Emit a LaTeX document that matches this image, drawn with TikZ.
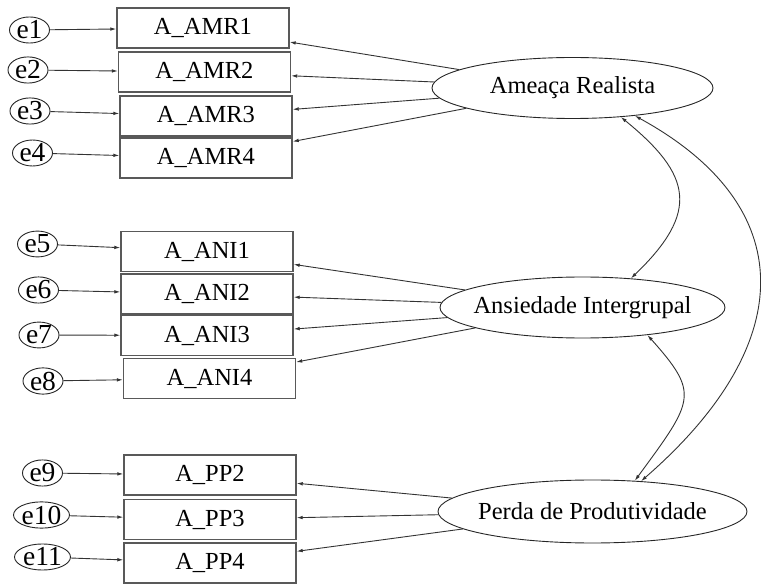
\documentclass[tikz,border=0pt]{standalone}
\usepackage{fontspec}
\setmainfont{Liberation Serif}
\usetikzlibrary{shapes.geometric,arrows.meta}
\newcommand\fixedlabel[1]{\makebox[0pt]{#1}}
\tikzset{
  item/.style={draw=black!65, line width=1.4pt, fill=white, minimum width=172pt,
               minimum height=40pt, inner sep=0pt},
  err/.style={draw=black!85, line width=0.9pt, ellipse, minimum width=40pt,
              minimum height=24pt, inner sep=0pt, font=\fontsize{27.5}{30}\selectfont},
  lat/.style={draw=black!85, line width=0.9pt, ellipse, inner sep=0pt},
  tip/.tip={Latex[length=6pt,width=3.6pt]},
  load/.style={draw=black!80, line width=0.9pt, -tip},
  cov/.style={draw=black!80, line width=0.9pt, tip-tip},
}
\begin{document}
\begin{tikzpicture}[x=1pt,y=-1pt,font=\fontsize{24.5}{28}\selectfont]
\useasboundingbox (0,0) rectangle (761,585);

% latent factors
\node[lat, minimum width=281pt, minimum height=61pt] (AR) at (572.5,88) {\fixedlabel{Ameaça Realista}};
\node[lat, minimum width=285pt, minimum height=61pt] (AI) at (582.5,307.5) {\fixedlabel{Ansiedade Intergrupal}};
\node[lat, minimum width=309pt, minimum height=63pt] (PP) at (592.5,511.5) {\fixedlabel{Perda de Produtividade}};

% observed items
\node[item] (AMR1) at (203,28) {A\_AMR1};
\node[item] (AMR2) at (204.5,72) {A\_AMR2};
\node[item] (AMR3) at (206,116) {A\_AMR3};
\node[item] (AMR4) at (206,158) {A\_AMR4};
\node[item] (ANI1) at (207,251.5) {A\_ANI1};
\node[item] (ANI2) at (207,294) {A\_ANI2};
\node[item] (ANI3) at (207,335.5) {A\_ANI3};
\node[item] (ANI4) at (209.5,378.5) {A\_ANI4};
\node[item] (PP2) at (210,475) {A\_PP2};
\node[item] (PP3) at (210,519.5) {A\_PP3};
\node[item] (PP4) at (210,563) {A\_PP4};

% error terms
\node[err] (e1) at (29.5,30) {\fixedlabel{e1}};
\node[err] (e2) at (28,70) {\fixedlabel{e2}};
\node[err] (e3) at (30,111) {\fixedlabel{e3}};
\node[err] (e4) at (32.5,153) {\fixedlabel{e4}};
\node[err] (e5) at (37.5,244) {\fixedlabel{e5}};
\node[err] (e6) at (38.5,290) {\fixedlabel{e6}};
\node[err] (e7) at (39,335) {\fixedlabel{e7}};
\node[err] (e8) at (43,381) {\fixedlabel{e8}};
\node[err] (e9) at (42.5,473) {\fixedlabel{e9}};
\node[err, minimum width=56pt] (e10) at (41.5,515) {\fixedlabel{e10}};
\node[err, minimum width=56pt] (e11) at (42.5,557) {\fixedlabel{e11}};

% error paths
\foreach \e/\i in {e1/AMR1,e2/AMR2,e3/AMR3,e4/AMR4,e5/ANI1,e6/ANI2,e7/ANI3,e8/ANI4,e9/PP2,e10/PP3,e11/PP4}
  \draw[load] (\e) -- (\i);

% factor loadings
\foreach \i in {AMR1,AMR2,AMR3,AMR4} \draw[load] (AR) -- (\i);
\foreach \i in {ANI1,ANI2,ANI3,ANI4} \draw[load] (AI) -- (\i);
\foreach \i in {PP2,PP3,PP4} \draw[load] (PP) -- (\i);

% factor covariances
\draw[cov] (AR.-31) .. controls (692,175) and (700,212) .. (AI.31);
\draw[cov] (AR.-24) .. controls (800,206) and (800,343) .. (PP.32);
\draw[cov] (AI.-23) .. controls (700,394) and (694,400) .. (PP.36);
\end{tikzpicture}
\end{document}
